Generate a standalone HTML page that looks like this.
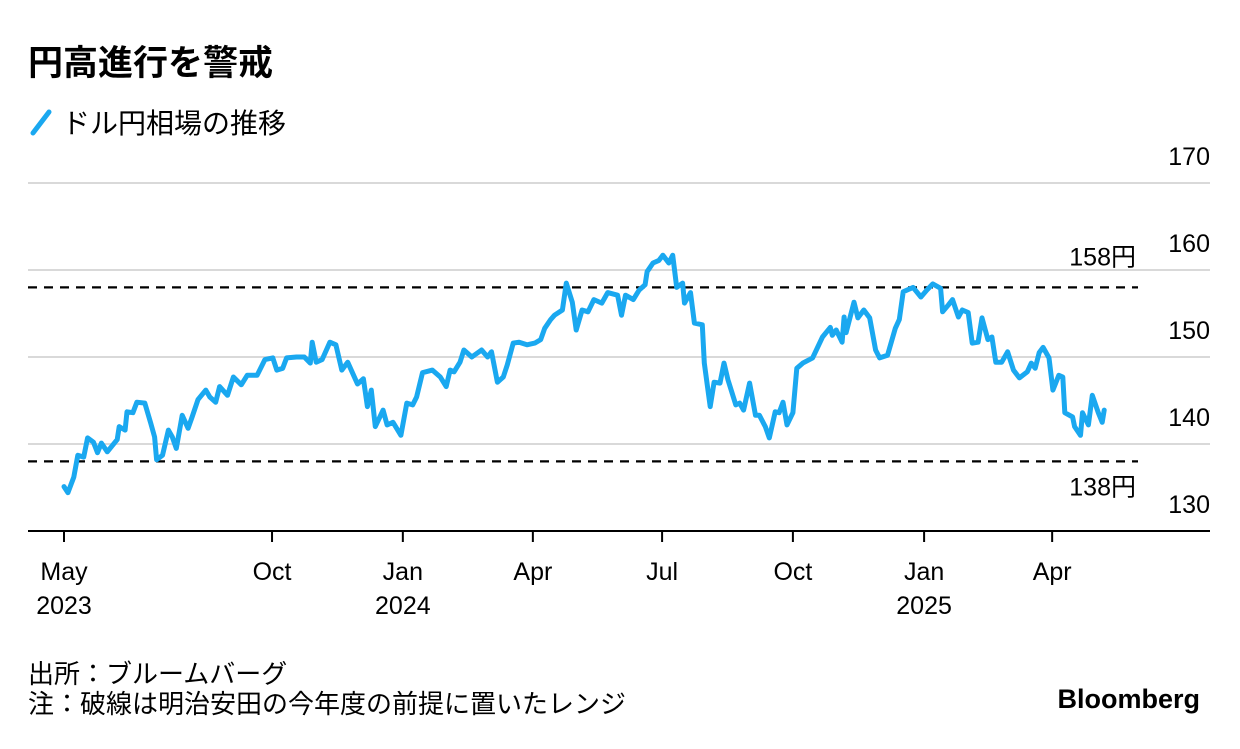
<!DOCTYPE html>
<html><head><meta charset="utf-8">
<style>
body{margin:0;background:#fff;width:1240px;height:744px;overflow:hidden;font-family:"Liberation Sans","Noto Sans CJK JP",sans-serif;}
svg text{font-family:"Liberation Sans","Noto Sans CJK JP",sans-serif;}
</style></head>
<body>
<svg id="chart" width="1240" height="744">
<text x="28" y="75" font-size="35" font-weight="bold" fill="#000">円高進行を警戒</text>
<g>
<line x1="33" y1="133" x2="49" y2="112" stroke="#1aa8f0" stroke-width="5" stroke-linecap="round"/>
<text x="62" y="133" font-size="28" fill="#000">ドル円相場の推移</text>
</g>
<g id="grid"></g>
<g id="xaxis"></g>
<g id="series"></g>
<text x="28" y="683" font-size="26" fill="#000">出所：ブルームバーグ</text>
<text x="28" y="713" font-size="26" fill="#000">注：破線は明治安田の今年度の前提に置いたレンジ</text>
<text x="1200" y="708" font-size="27" font-weight="bold" text-anchor="end" fill="#000">Bloomberg</text>
</svg>
<script>
const yTicks=[130,140,150,160,170];
const refLevels=[158,138];
const refLabels=["158円","138円"];
const xTickPos=[0,105.6,172,238,303.6,370,436.6,501.6];
const xTickMonths=["May","Oct","Jan","Apr","Jul","Oct","Jan","Apr"];
const xTickYears=["2023","","2024","","","","2025",""];
const days=[0,2,5,7,10,12,15,17,19,22,27,28,31,32,35,37,41,44,46,47,50,53,55,57,60,63,65,68,72,74,77,79,83,86,90,93,98,102,106,108,111,113,118,122,125,126,128,131,135,138,141,144,147,149,152,154,156,158,162,164,167,171,174,177,179,182,187,191,194,196,198,201,203,207,212,215,217,220,223,225,228,231,235,239,242,244,247,249,253,255,258,260,263,266,269,273,276,281,283,285,289,292,295,296,299,302,304,307,309,311,314,315,318,320,324,325,328,330,333,335,337,341,343,345,348,351,353,356,358,361,363,365,367,370,372,375,380,385,389,390,392,395,396,397,401,403,406,409,412,414,418,422,424,426,428,431,435,438,441,445,446,449,451,454,456,459,461,464,466,469,471,473,476,479,482,485,489,491,493,495,497,500,502,505,507,508,512,513,516,517,520,522,525,527,528];
const usdjpy=[135.1,134.4,136.2,138.7,138.5,140.7,140.2,139.0,140.1,139.1,140.5,142.0,141.6,143.7,143.6,144.8,144.7,142.4,140.8,138.2,138.7,141.6,140.8,139.5,143.3,141.8,143.1,145.1,146.2,145.4,144.8,146.6,145.6,147.7,146.8,147.9,147.9,149.7,149.9,148.5,148.7,149.9,150.0,150.0,149.3,151.7,149.4,149.7,151.7,151.4,148.5,149.4,147.9,146.9,147.5,144.3,146.2,142.0,143.9,142.2,142.5,141.0,144.7,144.5,145.4,148.2,148.5,147.7,146.6,148.5,148.3,149.4,150.8,150.0,150.8,150.0,150.6,147.1,147.7,149.1,151.6,151.7,151.4,151.6,152.0,153.3,154.3,154.8,155.4,158.5,156.3,153.1,155.4,155.2,156.6,156.2,157.4,157.1,154.8,157.1,156.6,157.7,158.3,159.8,160.8,161.1,161.7,160.8,161.7,158.0,158.5,156.2,157.4,153.9,153.7,149.3,144.3,147.1,147.0,149.3,147.4,144.5,144.7,143.9,147.0,143.3,143.3,142.0,140.7,143.7,143.6,144.8,142.2,143.6,148.7,149.3,149.9,152.3,153.4,152.5,153.1,151.7,154.6,152.8,156.3,154.5,155.4,154.5,150.8,149.9,150.2,153.3,154.3,157.5,157.7,158.0,156.9,157.7,158.4,157.9,155.2,156.0,156.6,154.6,155.4,155.1,151.6,151.7,154.5,152.0,152.3,149.4,149.4,150.6,148.5,147.6,148.3,149.3,148.7,150.5,151.1,149.9,146.2,147.9,147.7,143.6,143.1,142.0,141.0,143.6,142.2,145.6,143.6,142.5,143.9];

const NS="http://www.w3.org/2000/svg";
const X0=64,KX=1.97,Y0=531,KY=8.7;
function xs(d){return X0+d*KX;}
function ys(v){return Y0-(v-130)*KY;}
function mk(tag,attrs,parent){const e=document.createElementNS(NS,tag);for(const k in attrs)e.setAttribute(k,attrs[k]);parent.appendChild(e);return e;}
const grid=document.getElementById('grid'),xa=document.getElementById('xaxis'),ser=document.getElementById('series');
yTicks.forEach(v=>{
  if(v>130){const l=mk('line',{x1:28,x2:1210,y1:ys(v),y2:ys(v),stroke:'#d9d9d9','stroke-width':2},grid);
  
  }
  const t=mk('text',{x:1210,y:ys(v)-18,'font-size':25,'text-anchor':'end',fill:'#000'},grid);
  t.textContent=v;
  
  
});
refLevels.forEach((v,i)=>{
  const l=mk('line',{x1:28,x2:1138,y1:ys(v),y2:ys(v),stroke:'#000','stroke-width':2.2,'stroke-dasharray':'9 7'},grid);
  
  
  const t=mk('text',{x:1136,y:i==0?ys(v)-22:ys(v)+34,'font-size':25,'text-anchor':'end',fill:'#000'},grid);
  t.textContent=refLabels[i];
  
  
});
const ax=mk('line',{x1:28,x2:1210,y1:Y0,y2:Y0,stroke:'#000','stroke-width':2},xa);


xTickPos.forEach((d,i)=>{
  const x=xs(d);
  const tk=mk('line',{x1:x,x2:x,y1:Y0,y2:Y0+11,stroke:'#000','stroke-width':2},xa);
  
  
  const t=mk('text',{x:x,y:580,'font-size':25,'text-anchor':'middle',fill:'#000'},xa);
  t.textContent=xTickMonths[i];
  
  
  if(xTickYears[i]){const y=mk('text',{x:x,y:614,'font-size':25,'text-anchor':'middle',fill:'#000'},xa);
  y.textContent=xTickYears[i];
  
  }
});
const p=mk('path',{d:days.map((d,i)=>(i?'L':'M')+xs(d).toFixed(1)+','+ys(usdjpy[i]).toFixed(1)).join(''),fill:'none',stroke:'#1aa8f0','stroke-width':5,'stroke-linejoin':'round','stroke-linecap':'round'},ser);


</script>
</body></html>
